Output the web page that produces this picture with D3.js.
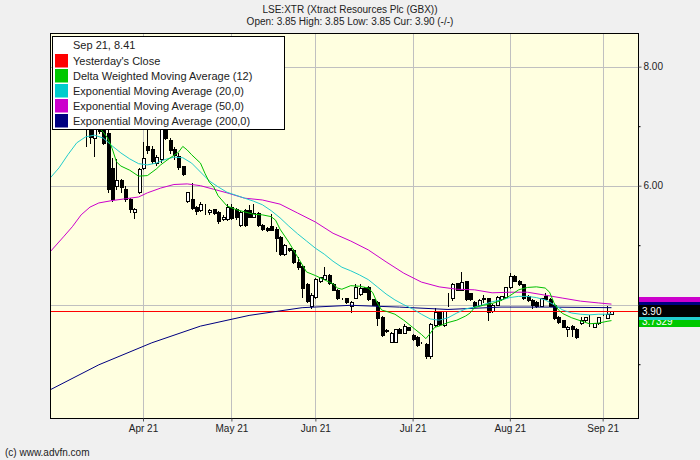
<!DOCTYPE html>
<html><head><meta charset="utf-8">
<script src="https://cdn.jsdelivr.net/npm/d3@7/dist/d3.min.js"></script>
<style>
body{margin:0;background:#f0f0f0;}
svg{display:block;font-family:"Liberation Sans",Arial,sans-serif;}
</style>
</head><body>
<svg id="chart" width="700" height="460"></svg>
<script>
// ---- data (trading-day index k, price in pence) ----
const title = "LSE:XTR (Xtract Resources Plc (GBX))";
const subtitle = "Open: 3.85 High: 3.85 Low: 3.85 Cur: 3.90 (-/-)";
const monthTickIdx = [21, 41, 60, 82, 104, 125];
const monthLabels = ["Apr 21", "May 21", "Jun 21", "Jul 21", "Aug 21", "Sep 21"];
const priceTicks = [4, 6, 8];
const priceTickLabels = ["", "6.00", "8.00"];
const minorPriceTicks = [3, 5, 7];
const firstIndex = 1;
const opens = [7.90,8.20,8.00,7.70,7.40,7.30,7.20,7.10,6.93,6.80,7.05,7.10,6.88,6.30,6.00,6.10,5.95,5.78,5.55,5.90,6.30,6.66,6.62,6.38,6.45,7.00,6.76,6.62,6.50,6.33,5.75,5.78,5.65,5.59,5.69,5.55,5.60,5.56,5.44,5.44,5.65,5.60,5.34,5.59,5.59,5.48,5.54,5.34,5.29,5.32,5.28,5.14,4.85,4.95,4.92,4.72,4.65,4.35,3.98,4.13,4.39,4.44,4.50,4.35,4.25,4.11,4.11,3.97,4.12,4.18,4.28,4.30,4.09,4.05,3.80,3.58,3.38,3.38,3.60,3.53,3.62,3.49,3.46,3.36,3.34,3.13,3.66,3.87,3.66,4.09,4.12,4.36,4.25,4.39,4.19,4.05,4.00,4.11,4.11,3.89,4.00,4.09,4.13,4.29,4.49,4.40,4.34,4.15,4.08,4.05,3.98,4.15,4.10,4.00,3.80,3.74,3.59,3.65,3.60,3.69,3.74,3.78,3.63,3.69,3.83,3.78,3.85];
const highs = [8.20,8.41,8.10,7.90,7.60,7.50,7.40,7.30,7.10,7.10,7.20,7.20,6.95,6.47,6.45,6.12,6.00,5.80,5.62,6.30,6.74,6.94,6.66,6.52,7.20,7.10,6.80,6.65,6.55,6.33,5.90,6.04,5.66,5.73,5.70,5.60,5.60,5.57,5.50,5.70,5.70,5.62,5.58,5.60,5.68,5.69,5.55,5.35,5.30,5.52,5.30,5.15,5.02,4.96,4.93,4.80,4.66,4.36,4.19,4.45,4.47,4.64,4.51,4.36,4.26,4.12,4.12,4.06,4.34,4.34,4.29,4.31,4.10,4.06,3.81,3.59,3.54,3.60,3.61,3.68,3.63,3.50,3.47,3.37,3.36,3.70,3.94,3.88,3.90,4.20,4.36,4.37,4.55,4.40,4.20,4.07,4.09,4.16,4.12,4.01,4.14,4.15,4.30,4.54,4.50,4.41,4.35,4.16,4.09,4.06,4.12,4.19,4.11,4.01,3.81,3.75,3.64,3.66,3.61,3.80,3.80,3.83,3.70,3.80,3.84,3.98,3.90];
const lows = [7.80,7.90,7.60,7.20,7.10,7.00,7.00,6.66,6.72,6.50,6.88,6.70,5.90,5.75,5.95,5.90,5.75,5.55,5.45,5.88,6.28,6.55,6.38,6.35,6.40,6.78,6.55,6.45,6.28,6.18,5.72,5.60,5.52,5.58,5.53,5.53,5.53,5.38,5.42,5.42,5.44,5.44,5.32,5.33,5.47,5.47,5.32,5.25,5.24,5.25,4.90,4.84,4.84,4.91,4.70,4.60,4.13,4.04,3.94,4.12,4.38,4.43,4.35,4.24,4.10,4.10,4.03,3.88,4.11,4.17,4.21,4.08,3.99,3.66,3.47,3.54,3.37,3.37,3.52,3.52,3.57,3.41,3.31,3.35,3.10,3.10,3.64,3.66,3.64,3.98,4.08,4.24,4.24,4.08,4.08,3.96,3.99,4.05,3.74,3.88,3.99,4.08,4.12,4.28,4.39,4.33,4.10,4.07,3.94,3.96,3.97,4.09,3.97,3.76,3.70,3.62,3.48,3.48,3.44,3.68,3.73,3.64,3.62,3.68,3.82,3.77,3.85];
const closes = [8.20,8.00,7.70,7.40,7.30,7.20,7.10,6.95,6.82,6.95,6.92,6.72,5.95,5.78,6.10,5.98,5.78,5.60,5.60,6.28,6.47,6.60,6.42,6.49,7.00,6.80,6.60,6.52,6.32,6.20,5.89,5.63,5.57,5.69,5.69,5.59,5.54,5.41,5.48,5.65,5.46,5.47,5.56,5.34,5.48,5.54,5.34,5.27,5.25,5.26,5.12,4.85,5.00,4.92,4.71,4.63,4.28,4.06,4.17,4.44,4.46,4.50,4.36,4.25,4.11,4.11,4.05,4.05,4.30,4.28,4.22,4.09,4.00,3.77,3.49,3.55,3.53,3.59,3.53,3.64,3.58,3.42,3.32,3.36,3.13,3.68,3.87,3.67,3.89,4.10,4.35,4.25,4.38,4.09,4.09,3.98,4.08,4.10,3.88,4.00,4.13,4.14,4.29,4.49,4.40,4.34,4.11,4.08,4.00,3.97,4.11,4.10,3.98,3.77,3.71,3.63,3.63,3.59,3.46,3.74,3.79,3.78,3.69,3.79,3.83,3.84,3.90];

const dwmaIdx = [10,11,12,13,14,15,16,18,20,22,24,25,27,29,30,31,32,33,34,35,36,37,38,40,42,44,46,48,50,51,52,54,56,58,60,62,64,65,66,68,70,72,73,74,75,76,78,80,82,84,85,86,87,88,90,92,94,95,96,98,100,102,104,106,108,110,112,113,114,115,116,118,120,122,124,126,127];
const dwmaVal = [7.07,6.97,6.90,6.80,6.63,6.40,6.33,6.26,6.16,6.17,6.28,6.35,6.46,6.56,6.66,6.60,6.52,6.45,6.38,6.21,6.06,5.98,5.83,5.66,5.60,5.56,5.52,5.51,5.48,5.42,5.27,5.05,4.80,4.55,4.49,4.42,4.35,4.28,4.26,4.32,4.31,4.28,4.20,4.03,3.91,3.89,3.84,3.74,3.62,3.50,3.43,3.52,3.62,3.64,3.70,3.74,3.81,3.86,3.95,3.99,4.02,4.07,4.15,4.25,4.29,4.30,4.28,4.21,4.03,3.91,3.85,3.78,3.73,3.68,3.69,3.72,3.7329];
const ema20Idx = [0,2,4,6,8,10,12,14,16,18,20,22,24,26,28,30,32,34,36,38,40,42,44,46,48,50,52,54,56,58,60,62,64,66,68,70,72,74,76,78,80,82,84,86,88,90,92,94,96,98,100,102,104,106,108,110,112,114,116,118,120,122,124,126,127];
const ema20Val = [6.13,6.30,6.52,6.72,6.82,6.85,6.80,6.67,6.55,6.45,6.37,6.35,6.38,6.44,6.48,6.47,6.38,6.23,6.08,5.98,5.89,5.84,5.79,5.74,5.68,5.58,5.46,5.32,5.19,5.07,4.95,4.85,4.73,4.63,4.57,4.50,4.42,4.30,4.18,4.08,4.00,3.93,3.84,3.76,3.74,3.78,3.86,3.93,3.96,4.00,4.05,4.08,4.12,4.14,4.14,4.12,4.08,4.00,3.91,3.86,3.84,3.83,3.84,3.84,3.85];
const ema50Idx = [0,3,5,7,9,11,14,17,20,22,25,28,31,34,37,40,44,48,52,56,60,64,68,72,76,80,84,88,92,96,100,104,108,112,116,120,124,127];
const ema50Val = [4.89,5.14,5.31,5.51,5.64,5.71,5.75,5.78,5.81,5.88,5.96,6.02,6.03,6.00,5.94,5.88,5.79,5.76,5.69,5.54,5.39,5.20,5.07,4.92,4.72,4.53,4.38,4.30,4.26,4.25,4.20,4.21,4.21,4.16,4.11,4.06,4.03,4.01];
const ema200Idx = [0,11,23,34,45,57,68,79,90,102,113,127];
const ema200Val = [2.57,2.99,3.36,3.64,3.82,3.95,3.99,3.96,3.92,3.96,3.96,3.95];
const prevClose = 3.90;

const legendHeader = "Sep 21, 8.41";
const legendLabels = ["Yesterday's Close","Delta Weighted Moving Average (12)","Exponential Moving Average (20,0)","Exponential Moving Average (50,0)","Exponential Moving Average (200,0)"];
const legendColors = ["#ff0000","#00c800","#00cccc","#cc00cc","#000080"];

// ---- layout ----
const svg = d3.select("#chart");
const L = 50, R = 638, T = 33, B = 418;
const x = d3.scaleLinear().domain([0, 133]).range([50.2, 638]);
const y = d3.scaleLinear().domain([2.096, 8.566]).range([B, T]);

svg.append("rect").attr("width",700).attr("height",460).attr("fill","#f0f0f0");
svg.append("rect").attr("x",L).attr("y",T).attr("width",R-L).attr("height",B-T).attr("fill","#ffffe0");

svg.append("defs").append("clipPath").attr("id","clip")
  .append("rect").attr("x",L+1).attr("y",T+1).attr("width",R-L-1).attr("height",B-T-1);

// grid
const grid = svg.append("g").attr("shape-rendering","crispEdges").attr("stroke","#c0c0c0");
grid.selectAll("line.v").data(monthTickIdx).join("line")
  .attr("x1",d=>Math.round(x(d))+0.5).attr("x2",d=>Math.round(x(d))+0.5).attr("y1",T).attr("y2",B);
grid.selectAll("line.h").data(priceTicks).join("line")
  .attr("y1",d=>Math.round(y(d))+0.5).attr("y2",d=>Math.round(y(d))+0.5).attr("x1",L).attr("x2",R);

const plot = svg.append("g").attr("clip-path","url(#clip)");

// candles
const candles = opens.map((o,i)=>({k:i+firstIndex,o:o,h:highs[i],l:lows[i],c:closes[i]}));
const cg = plot.append("g").attr("shape-rendering","crispEdges");
cg.selectAll("line").data(candles).join("line")
  .attr("x1",d=>Math.round(x(d.k))+0.5).attr("x2",d=>Math.round(x(d.k))+0.5)
  .attr("y1",d=>Math.round(y(d.h))).attr("y2",d=>Math.round(y(d.l))+1)
  .attr("stroke","#000");
cg.selectAll("rect").data(candles).join("rect")
  .attr("x",d=>Math.round(x(d.k))-1+0.5)
  .attr("y",d=>Math.round(y(Math.max(d.o,d.c)))+0.5)
  .attr("width",3)
  .attr("height",d=>Math.max(0, Math.round(y(Math.min(d.o,d.c)))-Math.round(y(Math.max(d.o,d.c)))))
  .attr("fill",d=>d.c>=d.o?"#ffffff":"#000000")
  .attr("stroke","#000");

// prev close line
plot.append("line").attr("x1",L).attr("x2",R)
  .attr("y1",Math.round(y(prevClose))+0.5).attr("y2",Math.round(y(prevClose))+0.5)
  .attr("stroke","#ff0000").attr("shape-rendering","crispEdges");

// moving averages
const line = d3.line().x(d=>x(d[0])).y(d=>y(d[1]));
const series = [
  [ema200Idx, ema200Val, "#000080"],
  [ema50Idx, ema50Val, "#cc00cc"],
  [ema20Idx, ema20Val, "#22cccc"],
  [dwmaIdx, dwmaVal, "#00c000"]
];
series.forEach(([ix, vals, col])=>{
  plot.append("path").datum(ix.map((k,i)=>[k, vals[i]]))
    .attr("d", line).attr("fill","none").attr("stroke",col).attr("stroke-width",1);
});

// frame
svg.append("rect").attr("x",L+0.5).attr("y",T+0.5).attr("width",R-L).attr("height",B-T)
  .attr("fill","none").attr("stroke","#000").attr("shape-rendering","crispEdges");

// axes
const yAxis = d3.axisRight(y).tickValues(priceTicks).tickSize(3).tickPadding(2)
  .tickFormat((d,i)=>priceTickLabels[i]);
const ya = svg.append("g").attr("transform",`translate(${R+0.5},0)`).call(yAxis);
const yMinor = d3.axisRight(y).tickValues(minorPriceTicks).tickSize(2).tickFormat("");
svg.append("g").attr("transform",`translate(${R+0.5},0)`).call(yMinor);
const xAxis = d3.axisBottom(x).tickValues(monthTickIdx).tickSize(3).tickPadding(3).tickFormat((d,i)=>monthLabels[i]);
const xa = svg.append("g").attr("transform",`translate(0,${B+0.5})`).call(xAxis);
[ya, xa].forEach(a=>{
  a.select(".domain").remove();
  a.selectAll("text").attr("font-size",10).attr("fill","#222").attr("font-family","Liberation Sans, Arial, sans-serif");
  a.selectAll("line").attr("stroke","#555");
});
ya.selectAll("text").filter(t=>t===4).remove();
svg.selectAll("g .domain").remove();

// right side value labels
const lastLabels = [
  [3.7329, "#00c800", "3.7329"],
  [4.03, "#cc00cc", ""],
  [3.94, "#000080", ""],
  [3.84, "#22cccc", ""],
  [prevClose, "#000000", "3.90"]
];
const lab = svg.append("g").attr("shape-rendering","crispEdges");
lastLabels.forEach(([v,col,txt])=>{
  const cy = Math.round(y(v));
  lab.append("rect").attr("x",R+1).attr("y",cy-6).attr("width",700-R-1).attr("height",12).attr("fill",col);
  if(txt) lab.append("text").attr("x",R+4).attr("y",cy+4).attr("font-size",10).attr("fill","#fff").text(txt);
});

// titles
svg.append("text").attr("x",350).attr("y",13).attr("text-anchor","middle").attr("font-size",10).attr("fill","#222").text(title);
svg.append("text").attr("x",350).attr("y",25).attr("text-anchor","middle").attr("font-size",10).attr("fill","#222").text(subtitle);
svg.append("text").attr("x",5).attr("y",456).attr("font-size",10).attr("fill","#222").text("(c) www.advfn.com");

// legend
const lg = svg.append("g");
lg.append("rect").attr("x",52.5).attr("y",36.5).attr("width",232).attr("height",93)
  .attr("fill","#fff").attr("stroke","#000").attr("shape-rendering","crispEdges");
lg.append("text").attr("x",73).attr("y",49).attr("font-size",11).attr("fill","#222").text(legendHeader);
legendLabels.forEach((t,i)=>{
  lg.append("rect").attr("x",55).attr("y",54+15*i).attr("width",13).attr("height",13.5).attr("fill",legendColors[i]);
  lg.append("text").attr("x",73).attr("y",64.5+15*i).attr("font-size",11).attr("fill","#222").text(t);
});
</script>
</body></html>
